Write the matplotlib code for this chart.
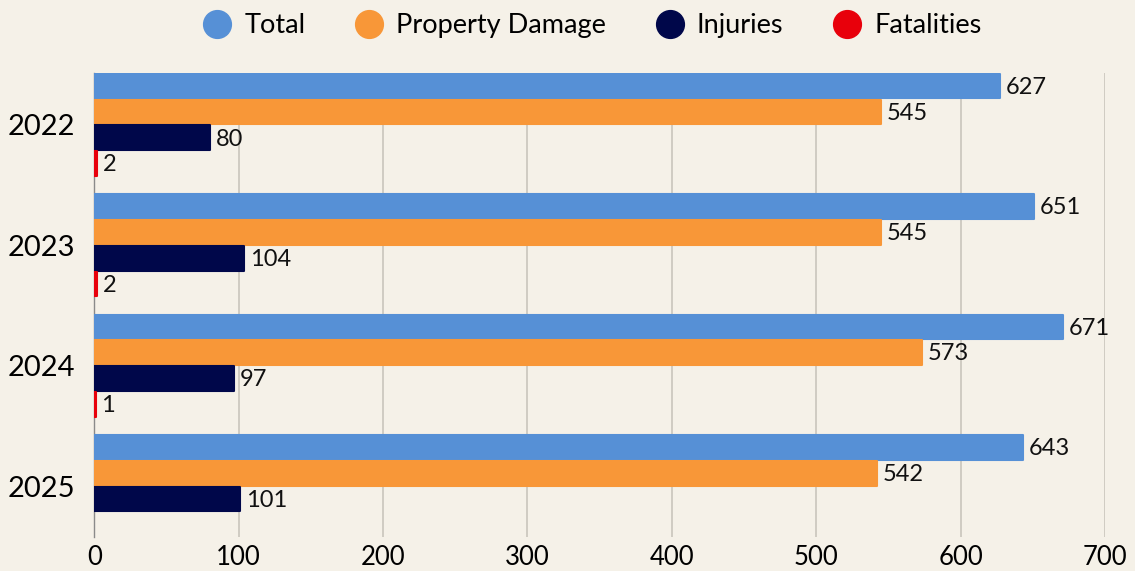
import numpy as np
import matplotlib
matplotlib.use("Agg")
import matplotlib.pyplot as plt
from matplotlib.lines import Line2D

plt.rcParams["font.family"] = ["Lato", "DejaVu Sans"]

years = ["2022", "2023", "2024", "2025"]
series = ["Total", "Property Damage", "Injuries", "Fatalities"]
total = [627, 651, 671, 643]
property_damage = [545, 545, 573, 542]
injuries = [80, 104, 97, 101]
fatalities = [2, 2, 1, 0]
colors = ["#5690d6", "#f89738", "#00074a", "#e8000b"]

bg = "#f5f1e8"
fig = plt.figure(figsize=(11.35, 5.71), dpi=100, facecolor=bg)
ax = fig.add_axes([0.083, 0.06, 0.8906, 0.812], facecolor=bg)

y = np.arange(len(years))
h = 0.205
step = 0.215
offsets = [-1.5 * step, -0.5 * step, 0.5 * step, 1.5 * step]

for vals, off, c in zip([total, property_damage, injuries, fatalities], offsets, colors):
    for yi, v in zip(y, vals):
        if v == 0:
            continue
        ax.barh(yi + off, v, height=h, color=c, edgecolor=c,
                linewidth=1.5, joinstyle="round", zorder=3)
        ax.text(v + 4, yi + off + 0.01, str(v),
                va="center", ha="left", fontsize=17, color="#111111", zorder=4)

ax.set_xlim(0, 700)
ax.set_ylim(3.42, -0.43)
ax.set_yticks(y)
ax.set_yticklabels(years, fontsize=21)
ax.set_xticks(range(0, 701, 100))
ax.tick_params(axis="x", labelsize=18.5, length=0, pad=6)
ax.tick_params(axis="y", length=0, pad=14)
ax.xaxis.grid(True, color="#c9c5bc", linewidth=1.2, zorder=0)
for s in ["top", "right", "bottom"]:
    ax.spines[s].set_visible(False)
ax.spines["left"].set_color("#8a8a8a")
ax.spines["left"].set_linewidth(1)

handles = [Line2D([], [], marker="o", linestyle="", markersize=20,
                  markerfacecolor=c, markeredgecolor=c) for c in colors]
fig.legend(handles, series, loc="center", bbox_to_anchor=(0.522, 0.955),
           ncol=4, frameon=False, fontsize=19.5, handlelength=1.0,
           handletextpad=0.5, columnspacing=1.85)

fig.savefig("out.png", dpi=100, facecolor=bg)
